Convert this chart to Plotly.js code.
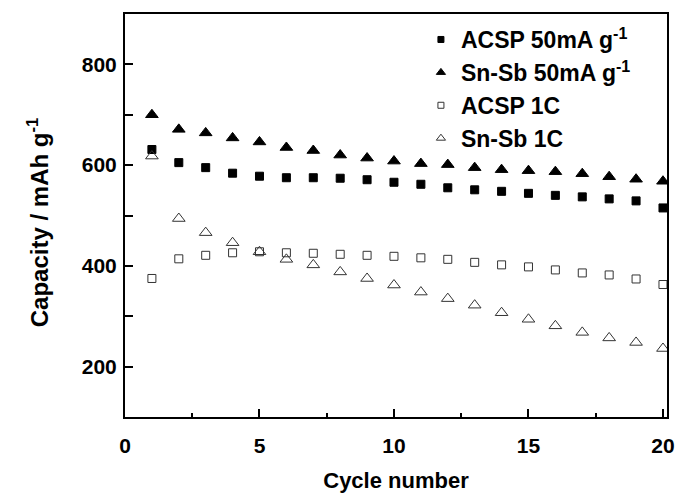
<!DOCTYPE html>
<html>
<head>
<meta charset="utf-8">
<script src="https://cdn.plot.ly/plotly-3.0.1.min.js"></script>
<style>html,body{margin:0;padding:0;background:#fff;}#chart{width:677px;height:493px;}</style>
</head>
<body>
<div id="chart"></div>
<script>
var cycles = [1,2,3,4,5,6,7,8,9,10,11,12,13,14,15,16,17,18,19,20];
var acsp50 = [631,605,595,584,578,575,575,574,571,566,562,555,551,548,544,540,537,533,529,515];
var snsb50 = [700,671,664,654,646,635,629,620,614,608,603,601,595,591,589,587,583,577,572,568];
var acsp1C = [375,414,421,426,428,426,425,423,421,419,416,413,407,402,398,392,386,382,374,363];
var snsb1C = [618,494,466,446,428,413,402,388,375,362,348,335,322,307,294,281,268,257,248,236];
var seriesNames = ["ACSP 50mA g<sup>-1</sup>","Sn-Sb 50mA g<sup>-1</sup>","ACSP 1C","Sn-Sb 1C"];
var yTitle = 'Capacity / mAh g<sup>-1</sup>';
var xTitle = 'Cycle number';
var symbols = ['square','triangle-up','square-open','triangle-up-open'];
var colors = ['#000','#000','#333','#333'];
var plotSizes = [8,11,8,11];
var legendSizes = [6,8,6,8];
var seriesData = [acsp50,snsb50,acsp1C,snsb1C];

var traces = [];
for (var i=0;i<4;i++){
  traces.push({x:cycles,y:seriesData[i],name:seriesNames[i],mode:'markers',type:'scatter',
    showlegend:false,
    marker:{symbol:symbols[i],size:plotSizes[i],color:colors[i],line:{width:1,color:colors[i]}}});
}
for (var j=0;j<4;j++){
  traces.push({x:[null],y:[null],name:seriesNames[j],mode:'markers',type:'scatter',
    showlegend:true,
    marker:{symbol:symbols[j],size:legendSizes[j],color:colors[j],line:{width:1,color:colors[j]}}});
}

var fontFam = 'Liberation Sans, Arial, sans-serif';
var layout = {
  width:677,height:493,
  margin:{l:125,r:10,t:14,b:76},
  paper_bgcolor:'#fff',plot_bgcolor:'#fff',
  showlegend:true,
  legend:{x:0.546,y:0.99,xanchor:'left',yanchor:'top',bgcolor:'rgba(0,0,0,0)',
    font:{family:fontFam,size:23,color:'#000',weight:'bold'},itemsizing:'trace',
    tracegroupgap:0},
  xaxis:{range:[0,20.15],tickvals:[0,5,10,15,20],ticks:'inside',ticklen:8,tickwidth:2,
    tickcolor:'#000',showline:true,linewidth:2,linecolor:'#000',mirror:true,
    showgrid:false,zeroline:false,ticklabelstandoff:9,
    minor:{tickvals:[2.5,7.5,12.5,17.5],ticks:'inside',ticklen:4,tickwidth:2,tickcolor:'#000'},
    tickfont:{family:fontFam,size:21,color:'#000',weight:'bold'},
    title:{text:xTitle,font:{family:fontFam,size:22,color:'#000',weight:'bold'},standoff:16}},
  yaxis:{range:[100,900],tickvals:[200,400,600,800],ticks:'inside',ticklen:8,tickwidth:2,
    tickcolor:'#000',showline:true,linewidth:2,linecolor:'#000',mirror:true,
    showgrid:false,zeroline:false,ticklabelstandoff:2,
    minor:{tickvals:[300,500,700],ticks:'inside',ticklen:8,tickwidth:2,tickcolor:'#000'},
    tickfont:{family:fontFam,size:21,color:'#000',weight:'bold'}},
  annotations:[{text:yTitle,xref:'paper',yref:'paper',x:-0.16,y:0.484,
    xanchor:'center',yanchor:'middle',textangle:-90,showarrow:false,
    font:{family:fontFam,size:24,color:'#000',weight:'bold'}}]
};
Plotly.newPlot('chart',traces,layout,{displayModeBar:false,staticPlot:true});
</script>
</body>
</html>
